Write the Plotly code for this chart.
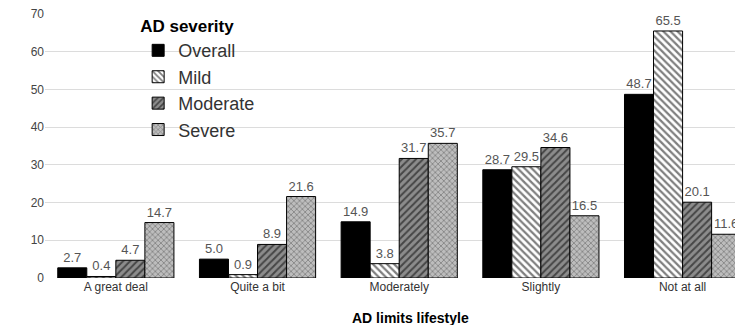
import plotly.graph_objects as go

# Survey responses: how much AD limits lifestyle, by AD severity (%)
categories = ["A great deal", "Quite a bit", "Moderately", "Slightly", "Not at all"]
overall = [2.7, 5.0, 14.9, 28.7, 48.7]
mild = [0.4, 0.9, 3.8, 29.5, 65.5]
moderate = [4.7, 8.9, 31.7, 34.6, 20.1]
severe = [14.7, 21.6, 35.7, 16.5, 11.6]
y_ticks = [0, 10, 20, 30, 40, 50, 60, 70]

FONT = "Liberation Sans, Arial, Helvetica, sans-serif"

series = [
    ("Overall", overall, dict(color="black")),
    ("Mild", mild, dict(color="white",
                        pattern=dict(shape="\\", fgcolor="black", bgcolor="white",
                                     size=5, solidity=0.45, fillmode="overlay"))),
    ("Moderate", moderate, dict(color="#8c8c8c",
                                pattern=dict(shape="/", fgcolor="black", bgcolor="#8c8c8c",
                                             size=5, solidity=0.4, fillmode="overlay"))),
    ("Severe", severe, dict(color="#a0a0a0",
                            pattern=dict(shape="x", fgcolor="#505050", bgcolor="#bdbdbd",
                                         size=4, solidity=0.4, fillmode="overlay"))),
]

fig = go.Figure()
for name, vals, marker in series:
    marker = dict(marker, line=dict(color="black", width=1))
    fig.add_trace(go.Bar(
        name=name, x=categories, y=vals, marker=marker,
        texttemplate="%{y:.1f}", textposition="outside",
        textfont=dict(family=FONT, size=13, color="#555555"),
        cliponaxis=False,
    ))

fig.update_layout(
    width=735, height=325,
    margin=dict(l=45, r=0, t=14, b=47),
    paper_bgcolor="white", plot_bgcolor="white",
    barmode="group", bargap=0.18, bargroupgap=0,
    font=dict(family=FONT, color="#444444"),
    showlegend=True,
    legend=dict(
        title=dict(text="<b>AD severity</b>", font=dict(family=FONT, size=17, color="black")),
        font=dict(family=FONT, size=18, color="#333333"),
        x=0.135, y=1.015, xanchor="left", yanchor="top",
        bgcolor="rgba(0,0,0,0)", tracegroupgap=0, itemwidth=30,
    ),
    xaxis=dict(
        range=[-0.5, 4.37], showgrid=False, showline=False, ticks="",
        tickfont=dict(family=FONT, size=12, color="#333333"),
    ),
    yaxis=dict(
        range=[0, 70], tickvals=y_ticks, showgrid=True, gridcolor="#dcdcdc",
        gridwidth=1, zeroline=False, showline=False, ticks="",
        tickfont=dict(family=FONT, size=12, color="#444444"),
    ),
    annotations=[dict(
        text="<b>AD limits lifestyle</b>", xref="paper", yref="paper",
        x=0.529, y=-0.115, xanchor="center", yanchor="top", showarrow=False,
        font=dict(family=FONT, size=14, color="black"),
    )],
)

fig.write_html("out.html")
